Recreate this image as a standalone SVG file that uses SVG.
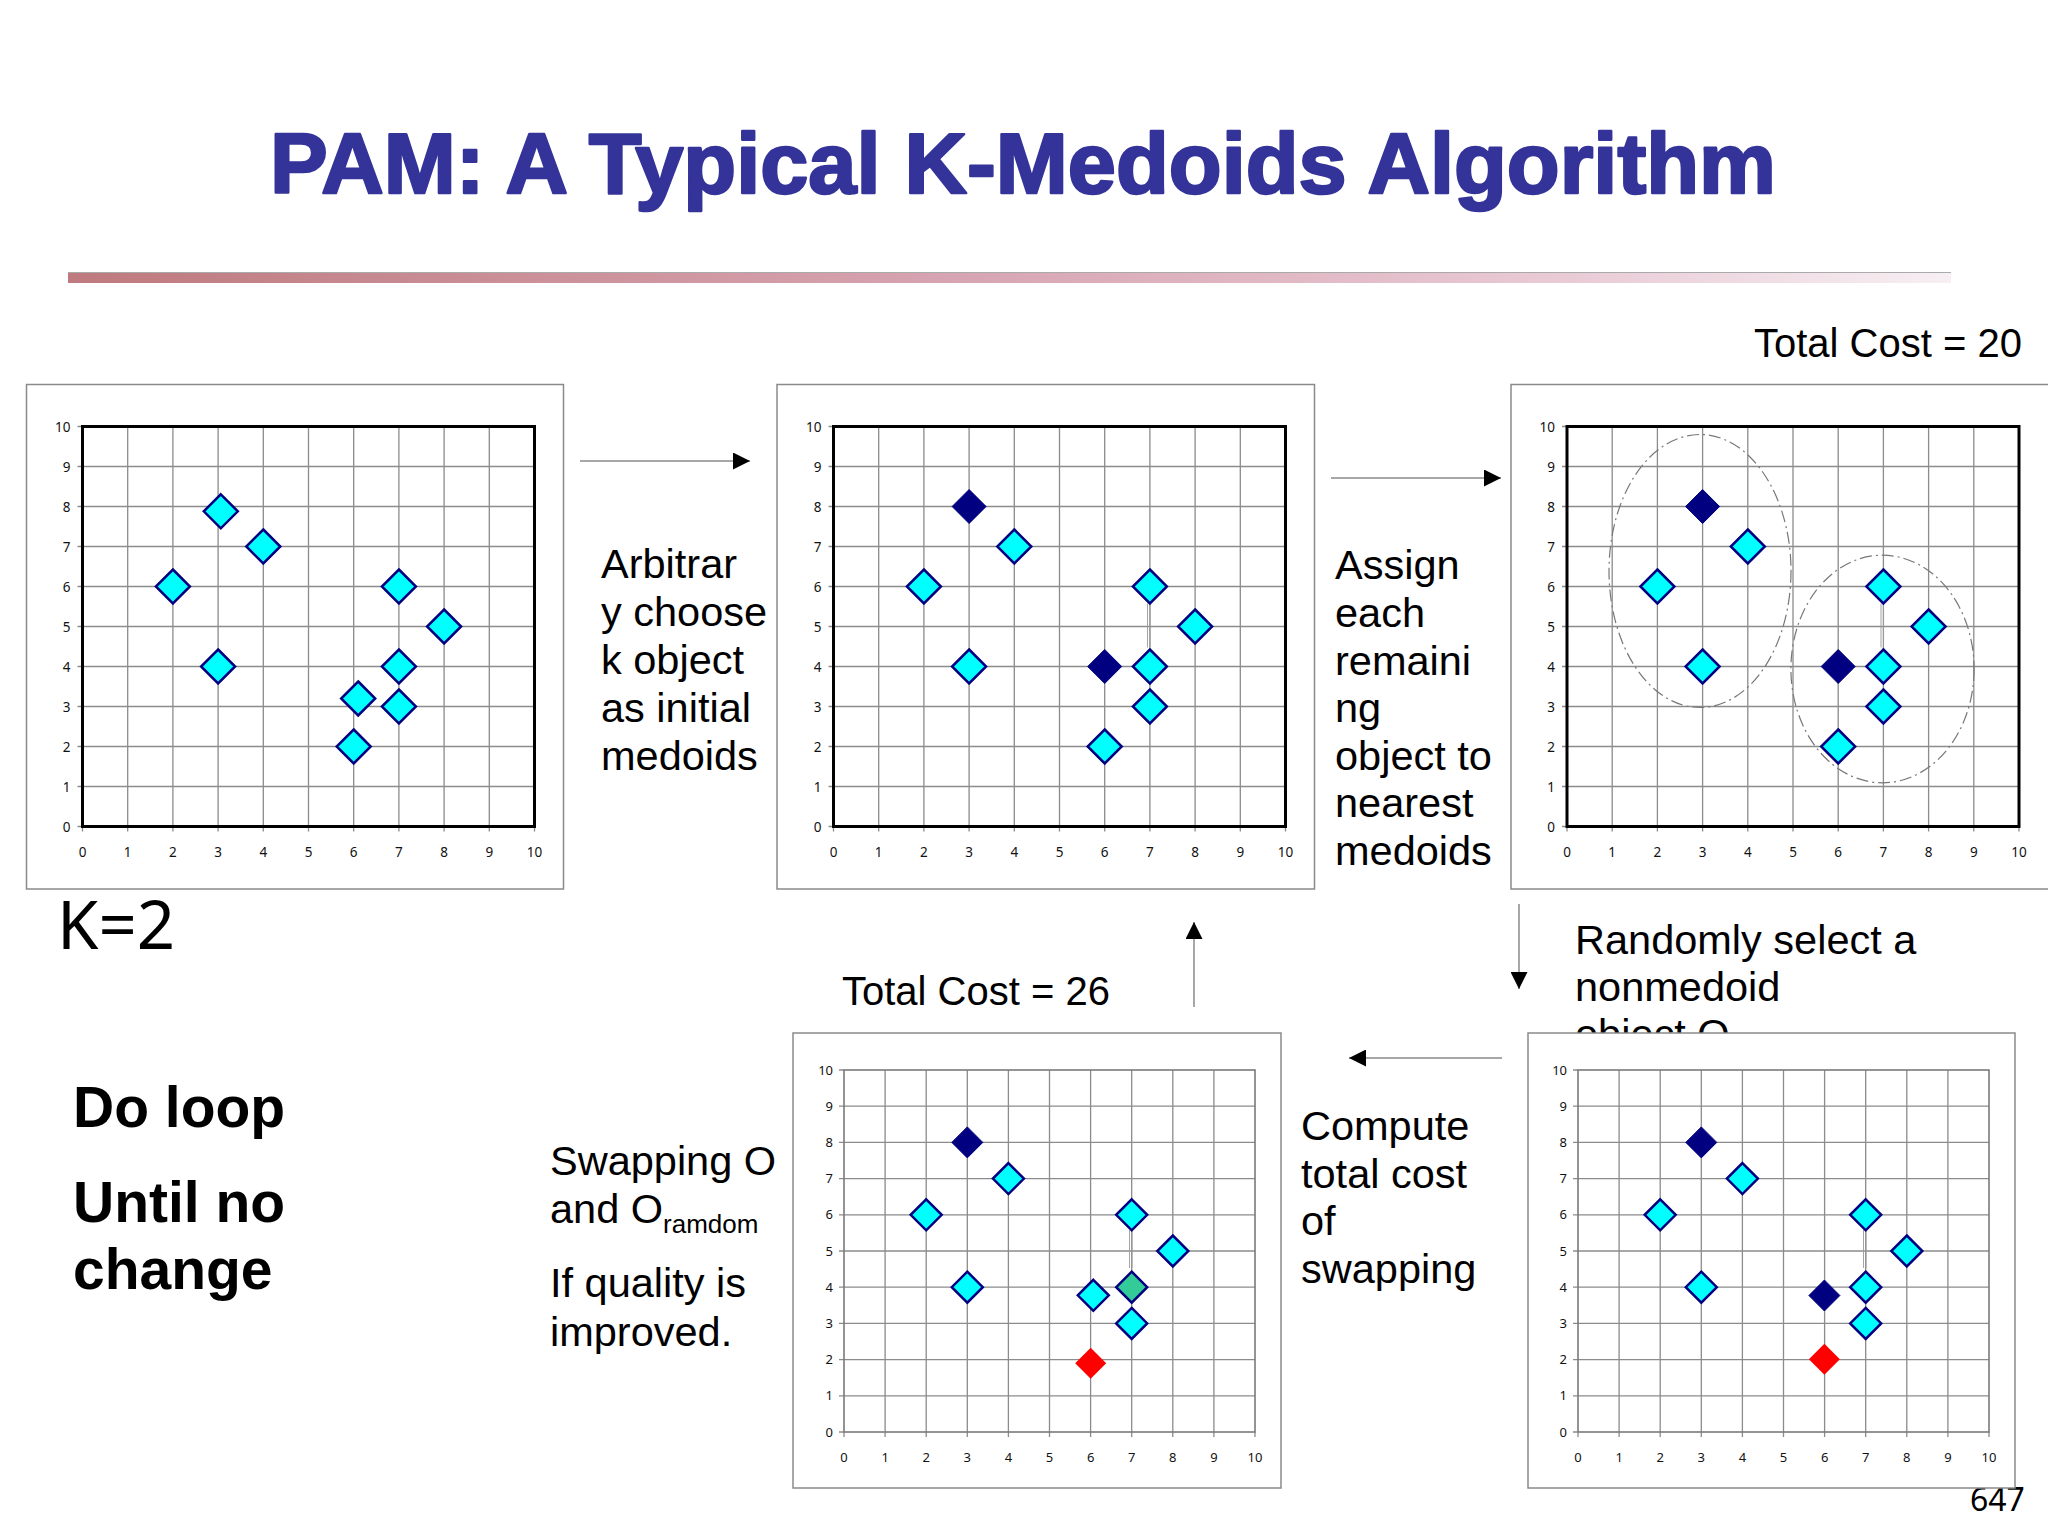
<svg xmlns="http://www.w3.org/2000/svg" xmlns:xlink="http://www.w3.org/1999/xlink" width="2048" height="1536" viewBox="0 0 2048 1536">
<style>
.frame{fill:#fff;stroke:#8a8a8a;stroke-width:1.5}
.grid{fill:none;stroke:#8c8c8c;stroke-width:1.3}
.tick{font-family:"Noto Sans","Open Sans","DejaVu Sans",sans-serif;font-size:13.5px;fill:#111}
.body{font-family:"Liberation Sans","Noto Sans",sans-serif;font-size:41.5px;fill:#000}
.cost{font-family:"Liberation Sans","Noto Sans",sans-serif;font-size:40px;fill:#000}
.cy{fill:#00FFFF;stroke:#000080;stroke-width:2.5;stroke-linejoin:miter}
.dk{fill:#000080;stroke:#000080;stroke-width:1}
.rd{fill:#FF0000}
.tl{fill:#33CC99;stroke:#000080;stroke-width:2.5}
.ell{fill:none;stroke:#777;stroke-width:1.2;stroke-dasharray:12 4 2 4}
.conn{stroke:#8a8a8a;stroke-width:1.5;fill:none}
.bar{stroke:#aaa;stroke-width:1.2}
</style>
<defs>
<linearGradient id="barg" x1="0" y1="0" x2="1" y2="0">
<stop offset="0" stop-color="#BE7A7E"/>
<stop offset="0.45" stop-color="#D6A2AF"/>
<stop offset="0.8" stop-color="#E9CBD6"/>
<stop offset="1" stop-color="#F7EFF3"/>
</linearGradient>
<marker id="ah" markerUnits="userSpaceOnUse" markerWidth="17" markerHeight="17" viewBox="0 0 16 16" refX="16" refY="8" orient="auto">
<path d="M0,0 L16,8 L0,16 Z" fill="#000"/>
</marker>
<path id="d17" d="M0,-17 L17,0 L0,17 L-17,0 Z"/>
<path id="d15" d="M0,-15.5 L15.5,0 L0,15.5 L-15.5,0 Z"/>
<g id="chartA">
<path class="grid" d="M45.2,0V405M90.4,0V405M135.6,0V405M180.8,0V405M226,0V405M271.2,0V405M316.4,0V405M361.6,0V405M406.8,0V405M0,400V405M452,400V405M-5,40H452M-5,80H452M-5,120H452M-5,160H452M-5,200H452M-5,240H452M-5,280H452M-5,320H452M-5,360H452M-5,0H0M-5,400H0"/>
<rect x="0" y="0" width="452" height="400" fill="none" stroke="#000" stroke-width="3"/>
<g class="tick" text-anchor="end">
<text x="-12" y="405">0</text><text x="-12" y="365">1</text><text x="-12" y="325">2</text><text x="-12" y="285">3</text><text x="-12" y="245">4</text><text x="-12" y="205">5</text><text x="-12" y="165">6</text><text x="-12" y="125">7</text><text x="-12" y="85">8</text><text x="-12" y="45">9</text><text x="-12" y="5">10</text>
</g>
<g class="tick" text-anchor="middle">
<text x="0" y="430.5">0</text><text x="45.2" y="430.5">1</text><text x="90.4" y="430.5">2</text><text x="135.6" y="430.5">3</text><text x="180.8" y="430.5">4</text><text x="226" y="430.5">5</text><text x="271.2" y="430.5">6</text><text x="316.4" y="430.5">7</text><text x="361.6" y="430.5">8</text><text x="406.8" y="430.5">9</text><text x="452" y="430.5">10</text>
</g>
</g>
<g id="chartB">
<path class="grid" d="M41.1,0V367M82.2,0V367M123.3,0V367M164.4,0V367M205.5,0V367M246.6,0V367M287.7,0V367M328.8,0V367M369.9,0V367M0,362V367M411,362V367M-5,36.2H411M-5,72.4H411M-5,108.6H411M-5,144.8H411M-5,181H411M-5,217.2H411M-5,253.4H411M-5,289.6H411M-5,325.8H411M-5,0H0M-5,362H0"/>
<rect x="0" y="0" width="411" height="362" fill="none" stroke="#7a7a7a" stroke-width="1.6"/>
<g class="tick" text-anchor="end" style="font-size:13px">
<text x="-11" y="366.5">0</text><text x="-11" y="330.3">1</text><text x="-11" y="294.1">2</text><text x="-11" y="257.9">3</text><text x="-11" y="221.7">4</text><text x="-11" y="185.5">5</text><text x="-11" y="149.3">6</text><text x="-11" y="113.1">7</text><text x="-11" y="76.9">8</text><text x="-11" y="40.7">9</text><text x="-11" y="4.5">10</text>
</g>
<g class="tick" text-anchor="middle" style="font-size:13px">
<text x="0" y="392">0</text><text x="41.1" y="392">1</text><text x="82.2" y="392">2</text><text x="123.3" y="392">3</text><text x="164.4" y="392">4</text><text x="205.5" y="392">5</text><text x="246.6" y="392">6</text><text x="287.7" y="392">7</text><text x="328.8" y="392">8</text><text x="369.9" y="392">9</text><text x="411" y="392">10</text>
</g>
</g>
</defs>

<rect width="2048" height="1536" fill="#fff"/>

<g id="title">
<text x="270" y="193" textLength="1506" lengthAdjust="spacingAndGlyphs" style="font-family:'Liberation Sans','DejaVu Sans',sans-serif;font-weight:bold;font-size:86px;fill:#333399;stroke:#333399;stroke-width:2.5;stroke-linejoin:round">PAM: A Typical K-Medoids Algorithm</text>
<rect x="68" y="272" width="1883" height="11" fill="url(#barg)"/>
<line class="bar" x1="68" y1="272.5" x2="1951" y2="272.5"/>
</g>

<g id="connectors">
<line class="conn" x1="580" y1="461" x2="750" y2="461" marker-end="url(#ah)"/>
<line class="conn" x1="1331" y1="478" x2="1501" y2="478" marker-end="url(#ah)"/>
<line class="conn" x1="1519" y1="904" x2="1519" y2="989" marker-end="url(#ah)"/>
<line class="conn" x1="1502" y1="1058" x2="1349" y2="1058" marker-end="url(#ah)"/>
<line class="conn" x1="1194" y1="1007" x2="1194" y2="922" marker-end="url(#ah)"/>
</g>

<g id="label-arbitrary">
<text class="body"><tspan x="601" y="578">Arbitrar</tspan><tspan x="601" y="626">y choose</tspan><tspan x="601" y="674">k object</tspan><tspan x="601" y="722">as initial</tspan><tspan x="601" y="770">medoids</tspan></text>
</g>

<g id="label-assign">
<text class="body"><tspan x="1335" y="579">Assign</tspan><tspan x="1335" y="627">each</tspan><tspan x="1335" y="675">remaini</tspan><tspan x="1335" y="722">ng</tspan><tspan x="1335" y="770">object to</tspan><tspan x="1335" y="817">nearest</tspan><tspan x="1335" y="865">medoids</tspan></text>
</g>

<g id="label-cost20"><text class="cost" x="1754" y="357">Total Cost = 20</text></g>
<g id="label-cost26"><text class="cost" x="842" y="1005">Total Cost = 26</text></g>

<g id="label-random">
<text class="body"><tspan x="1575" y="954">Randomly select a</tspan><tspan x="1575" y="1001">nonmedoid</tspan><tspan x="1575" y="1048">object O</tspan></text>
</g>

<g id="label-compute">
<text class="body"><tspan x="1301" y="1140">Compute</tspan><tspan x="1301" y="1188">total cost</tspan><tspan x="1301" y="1235">of</tspan><tspan x="1301" y="1283">swapping</tspan></text>
</g>

<g id="label-swap">
<text class="body"><tspan x="550" y="1175">Swapping O</tspan><tspan x="550" y="1222.5">and O</tspan><tspan y="1233" style="font-size:26px">ramdom</tspan><tspan x="550" y="1297">If quality is</tspan><tspan x="550" y="1346">improved.</tspan></text>
</g>

<g id="label-k"><text x="57" y="949" style="font-family:'Noto Sans','Open Sans',sans-serif;font-size:67px">K=2</text></g>

<g id="label-loop">
<text style="font-family:'Liberation Sans','Noto Sans',sans-serif;font-size:57px;font-weight:bold"><tspan x="73" y="1127">Do loop</tspan><tspan x="73" y="1222">Until no</tspan><tspan x="73" y="1289">change</tspan></text>
</g>

<g id="page-number"><text x="1970" y="1511" style="font-family:'Noto Sans','Open Sans',sans-serif;font-size:32px">647</text></g>

<g id="panel1">
<rect class="frame" x="26.5" y="384.5" width="537" height="504.5"/>
<g transform="translate(82.5,426.5)">
<use xlink:href="#chartA"/>
<g class="cy">
<use xlink:href="#d17" x="138.3" y="84.8"/><use xlink:href="#d17" x="180.8" y="120"/><use xlink:href="#d17" x="90.4" y="160"/><use xlink:href="#d17" x="135.6" y="240"/><use xlink:href="#d17" x="316.4" y="160"/><use xlink:href="#d17" x="361.6" y="200"/><use xlink:href="#d17" x="316.4" y="240"/><use xlink:href="#d17" x="275.7" y="272"/><use xlink:href="#d17" x="316.4" y="280"/><use xlink:href="#d17" x="271.2" y="320"/>
</g>
</g>
</g>

<g id="panel2">
<rect class="frame" x="777" y="384.5" width="537.5" height="504.5"/>
<g transform="translate(833.5,426.5)">
<use xlink:href="#chartA"/>
<path d="M314,177V221M316.5,177V221" stroke="#9a9a9a" stroke-width="0.9"/>
<g class="dk"><use xlink:href="#d17" x="135.6" y="80"/><use xlink:href="#d17" x="271.2" y="240"/></g>
<g class="cy">
<use xlink:href="#d17" x="180.8" y="120"/><use xlink:href="#d17" x="90.4" y="160"/><use xlink:href="#d17" x="135.6" y="240"/><use xlink:href="#d17" x="316.4" y="160"/><use xlink:href="#d17" x="361.6" y="200"/><use xlink:href="#d17" x="316.4" y="240"/><use xlink:href="#d17" x="316.4" y="280"/><use xlink:href="#d17" x="271.2" y="320"/>
</g>
</g>
</g>

<g id="panel3">
<rect class="frame" x="1511" y="384.5" width="545" height="504.5"/>
<g transform="translate(1567,426.5)">
<use xlink:href="#chartA"/>
<ellipse class="ell" cx="133" cy="144.5" rx="91" ry="136.5"/>
<ellipse class="ell" cx="315.5" cy="242.5" rx="91.6" ry="113.8"/>
<path d="M314,177V221M316.5,177V221" stroke="#9a9a9a" stroke-width="0.9"/>
<g class="dk"><use xlink:href="#d17" x="135.6" y="80"/><use xlink:href="#d17" x="271.2" y="240"/></g>
<g class="cy">
<use xlink:href="#d17" x="180.8" y="120"/><use xlink:href="#d17" x="90.4" y="160"/><use xlink:href="#d17" x="135.6" y="240"/><use xlink:href="#d17" x="316.4" y="160"/><use xlink:href="#d17" x="361.6" y="200"/><use xlink:href="#d17" x="316.4" y="240"/><use xlink:href="#d17" x="316.4" y="280"/><use xlink:href="#d17" x="271.2" y="320"/>
</g>
</g>
</g>

<g id="panel4">
<rect class="frame" x="793" y="1033" width="488" height="455"/>
<g transform="translate(844,1070)">
<use xlink:href="#chartB"/>
<path d="M285.5,160V198M288,160V198" stroke="#9a9a9a" stroke-width="0.9"/>
<g class="dk"><use xlink:href="#d15" x="123.3" y="72.4"/></g>
<g class="cy">
<use xlink:href="#d15" x="164.4" y="108.6"/><use xlink:href="#d15" x="82.2" y="144.8"/><use xlink:href="#d15" x="287.7" y="144.8"/><use xlink:href="#d15" x="328.8" y="181"/><use xlink:href="#d15" x="123.3" y="217.2"/><use xlink:href="#d15" x="249.3" y="225.3"/><use xlink:href="#d15" x="287.7" y="253.4"/>
</g>
<use class="tl" xlink:href="#d15" x="287.7" y="217.2"/>
<use class="rd" xlink:href="#d15" x="246.7" y="293.3"/>
</g>
</g>

<g id="panel5">
<rect class="frame" x="1528" y="1033" width="487" height="455"/>
<g transform="translate(1578,1070)">
<use xlink:href="#chartB"/>
<path d="M285.5,160V198M288,160V198" stroke="#9a9a9a" stroke-width="0.9"/>
<g class="dk"><use xlink:href="#d15" x="123.3" y="72.4"/><use xlink:href="#d15" x="246.4" y="225.5"/></g>
<g class="cy">
<use xlink:href="#d15" x="164.4" y="108.6"/><use xlink:href="#d15" x="82.2" y="144.8"/><use xlink:href="#d15" x="287.7" y="144.8"/><use xlink:href="#d15" x="328.8" y="181"/><use xlink:href="#d15" x="123.3" y="217.2"/><use xlink:href="#d15" x="287.7" y="217.2"/><use xlink:href="#d15" x="287.7" y="253.4"/>
</g>
<use class="rd" xlink:href="#d15" x="246.4" y="289.2"/>
</g>
</g>
</svg>
